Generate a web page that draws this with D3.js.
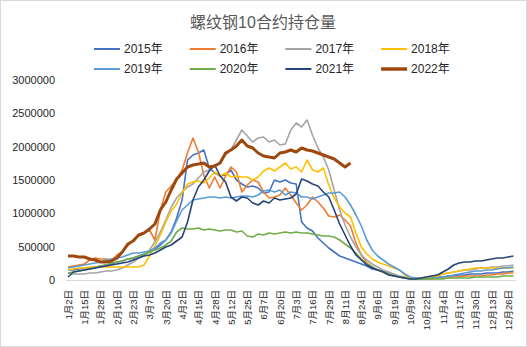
<!DOCTYPE html>
<html><head><meta charset="utf-8">
<script src="https://cdn.jsdelivr.net/npm/d3@7/dist/d3.min.js"></script>
<style>body{margin:0;background:#fff}svg{display:block}</style>
</head><body>
<svg id="chart" width="527" height="347"></svg>
<script>
const title = "螺纹钢10合约持仓量";
const seriesNames = ["2015年","2016年","2017年","2018年","2019年","2020年","2021年","2022年"];
const seriesColors = ["#4472C4","#ED7D31","#A5A5A5","#FFC000","#5B9BD5","#70AD47","#264478","#9E480E"];
const tickLabels = ["1月2日","1月15日","1月28日","2月10日","2月23日","3月7日","3月20日","4月2日","4月15日","4月28日","5月12日","5月25日","6月7日","6月20日","7月3日","7月16日","7月29日","8月11日","8月24日","9月6日","9月19日","10月9日","10月22日","11月4日","11月17日","11月30日","12月13日","12月26日"];
const yTicks = [0,500000,1000000,1500000,2000000,2500000,3000000];
const categoryCount = 248;   // trading days on the category axis
const sampleStep = 3;        // each series value is one reading every 3 trading days
const labelStep = 9;         // one axis label every 9 trading days

const s2015 = [150000,150000,165000,180000,180000,195000,210000,225000,240000,270000,285000,315000,330000,360000,390000,420000,465000,525000,600000,720000,930000,1200000,1800000,1875000,1905000,1950000,1680000,1605000,1560000,1575000,1650000,1500000,1440000,1395000,1410000,1380000,1305000,1320000,1500000,1470000,1500000,1455000,1440000,870000,780000,735000,630000,555000,480000,420000,360000,330000,300000,270000,240000,210000,165000,150000,135000,105000,75000,45000,30000,15000,15000,15000,30000,30000,45000,45000,60000,60000,75000,75000,90000,90000,90000,105000,105000,105000,120000,120000,135000];
const s2016 = [195000,210000,225000,240000,300000,330000,315000,315000,300000,375000,420000,510000,600000,660000,705000,750000,600000,1050000,1320000,1410000,1500000,1650000,1905000,2130000,1920000,1575000,1380000,1545000,1380000,1560000,1695000,1620000,1320000,1425000,1500000,1470000,1320000,1230000,1245000,1275000,1380000,1275000,1155000,1050000,1125000,1245000,1170000,1080000,960000,945000,975000,900000,810000,555000,375000,255000,195000,150000,120000,90000,60000,45000,30000,30000,15000,15000,15000,15000,30000,30000,30000,45000,45000,60000,60000,60000,60000,75000,75000,90000,90000,105000,105000];
const s2017 = [105000,90000,90000,90000,105000,105000,120000,135000,135000,150000,180000,225000,270000,330000,375000,450000,570000,720000,900000,1095000,1230000,1320000,1395000,1440000,1530000,1620000,1650000,1710000,1770000,1875000,1950000,2100000,2250000,2160000,2070000,2130000,2145000,2070000,2100000,2025000,2040000,2250000,2355000,2295000,2400000,2175000,1980000,1845000,1650000,1350000,1050000,825000,645000,495000,375000,300000,240000,195000,150000,120000,90000,60000,45000,30000,30000,30000,45000,60000,75000,90000,105000,120000,135000,150000,150000,165000,180000,180000,195000,195000,210000,210000,225000];
const s2018 = [150000,165000,180000,180000,195000,195000,195000,195000,195000,195000,195000,195000,195000,195000,225000,360000,510000,675000,870000,1035000,1140000,1305000,1440000,1470000,1485000,1455000,1530000,1620000,1560000,1605000,1545000,1560000,1545000,1545000,1500000,1545000,1635000,1680000,1635000,1695000,1755000,1665000,1695000,1620000,1800000,1650000,1620000,1680000,1425000,1230000,1095000,1005000,945000,705000,495000,390000,315000,270000,240000,210000,180000,150000,75000,15000,15000,30000,30000,45000,60000,90000,105000,120000,135000,150000,165000,180000,180000,180000,180000,180000,180000,180000,180000];
const s2019 = [180000,195000,210000,225000,240000,255000,270000,300000,315000,330000,345000,375000,405000,405000,420000,435000,480000,555000,600000,705000,885000,1050000,1125000,1200000,1215000,1230000,1245000,1245000,1230000,1245000,1230000,1245000,1260000,1260000,1245000,1275000,1335000,1350000,1320000,1350000,1275000,1320000,1305000,1245000,1245000,1215000,1245000,1275000,1305000,1305000,1320000,1245000,1125000,975000,810000,600000,450000,360000,300000,240000,195000,150000,90000,45000,30000,15000,15000,30000,30000,45000,60000,75000,90000,105000,120000,135000,135000,150000,150000,165000,180000,180000,195000];
const s2020 = [105000,120000,135000,150000,165000,180000,210000,225000,255000,270000,285000,315000,330000,360000,375000,420000,450000,480000,525000,585000,720000,780000,765000,765000,780000,750000,765000,750000,735000,750000,750000,720000,735000,660000,645000,690000,675000,705000,690000,705000,720000,705000,720000,705000,705000,690000,675000,660000,660000,645000,600000,540000,480000,405000,315000,240000,195000,150000,120000,90000,60000,45000,30000,15000,15000,15000,15000,15000,15000,15000,30000,30000,30000,30000,30000,45000,45000,45000,45000,45000,60000,60000,60000];
const s2021 = [45000,120000,135000,150000,165000,180000,195000,210000,225000,240000,255000,270000,300000,330000,360000,375000,405000,450000,495000,525000,585000,645000,870000,1200000,1395000,1500000,1635000,1725000,1560000,1470000,1245000,1185000,1245000,1230000,1155000,1125000,1185000,1155000,1230000,1200000,1215000,1230000,1290000,1515000,1485000,1440000,1410000,1320000,1245000,1050000,840000,675000,510000,375000,300000,225000,180000,150000,120000,75000,60000,45000,30000,15000,15000,30000,45000,60000,75000,120000,165000,225000,255000,270000,270000,285000,285000,300000,315000,330000,330000,345000,360000];
const s2022 = [360000,360000,345000,345000,315000,300000,270000,270000,285000,330000,420000,540000,585000,675000,705000,765000,840000,1050000,1170000,1350000,1515000,1605000,1695000,1725000,1740000,1755000,1695000,1710000,1755000,1905000,1950000,2010000,2100000,2010000,1980000,1905000,1860000,1845000,1830000,1905000,1920000,1950000,1920000,1980000,1950000,1935000,1905000,1875000,1845000,1815000,1755000,1695000,1755000];
const seriesValues = [s2015,s2016,s2017,s2018,s2019,s2020,s2021,s2022];

const svg = d3.select("#chart");
const font = "'Liberation Sans','Noto Sans CJK SC',sans-serif";

svg.append("rect").attr("x",0.5).attr("y",0.5).attr("width",526).attr("height",346)
  .attr("fill","#fff").attr("stroke","#d9d9d9");

const x = d3.scaleLinear().domain([0, categoryCount-1]).range([68, 515.3]);
const y = d3.scaleLinear().domain([0, 3000000]).range([280, 80]);

// title
svg.append("text").attr("x",263).attr("y",28).attr("text-anchor","middle")
  .attr("font-family",font).attr("font-size",16).attr("fill","#595959").text(title);

// legend
const leg = svg.append("g");
seriesNames.forEach((n,i)=>{
  const col = i%4, row = Math.floor(i/4);
  const lx = 94 + col*95.7, ly = 49 + row*20;
  leg.append("line").attr("x1",lx).attr("x2",lx+26).attr("y1",ly).attr("y2",ly)
    .attr("stroke",seriesColors[i]).attr("stroke-width", i===7?3.5:2);
  leg.append("text").attr("x",lx+30).attr("y",ly).attr("dy","0.35em")
    .attr("font-family",font).attr("font-size",12).attr("fill","#262626").text(n);
});

// y axis
const ya = svg.append("g").attr("transform","translate(66,0)")
  .call(d3.axisLeft(y).tickValues(yTicks).tickSize(0).tickPadding(11).tickFormat(d3.format("d")));
ya.select(".domain").remove();
ya.selectAll("text").attr("font-family",font).attr("font-size",11).attr("fill","#262626");

// x axis
const xa = svg.append("g").attr("transform","translate(0,280)")
  .call(d3.axisBottom(x).tickValues(tickLabels.map((d,i)=>i*labelStep)).tickSize(0)
    .tickFormat((d,i)=>tickLabels[i]));
xa.select(".domain").remove();
xa.selectAll("text").attr("font-family",font).attr("font-size",9.5).attr("fill","#262626")
  .attr("text-anchor","end").attr("transform","rotate(-90)")
  .attr("x",-10).attr("y",0).attr("dy","0.35em");
svg.append("line").attr("x1",66).attr("x2",516).attr("y1",280.5).attr("y2",280.5)
  .attr("stroke","#d9d9d9").attr("stroke-width",1);

// series
const line = d3.line().x((d,i)=>x(i*sampleStep)).y(d=>y(d));
seriesValues.forEach((vals,i)=>{
  svg.append("path").datum(vals).attr("d",line).attr("fill","none")
    .attr("stroke",seriesColors[i]).attr("stroke-width", i===7?3:1.6)
    .attr("stroke-linejoin","round");
});
</script>
</body></html>
